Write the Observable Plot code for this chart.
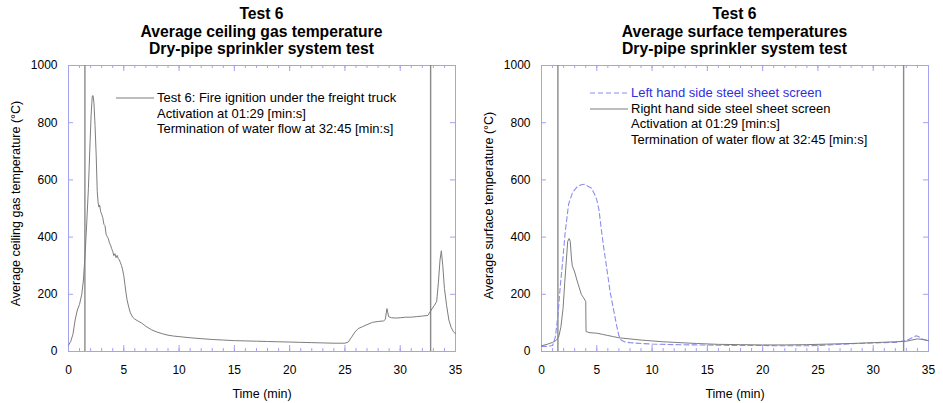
<!DOCTYPE html>
<html><head><meta charset="utf-8">
<script src="https://cdn.jsdelivr.net/npm/d3@7"></script>
<script src="https://cdn.jsdelivr.net/npm/@observablehq/plot@0.6"></script>
<style>
body{margin:0;background:#fff;font-family:"Liberation Sans",Arial,sans-serif;}
#wrap{position:relative;width:943px;height:403px;overflow:hidden;}
.panel{position:absolute;top:0;}
.title{position:absolute;top:5px;width:400px;text-align:center;font-weight:bold;font-size:15.7px;line-height:17.5px;color:#000;}
.legend{position:absolute;font-size:13px;line-height:15.5px;color:#000;white-space:nowrap;}
.legend .row{position:relative;height:15.5px;}
.legend svg{position:absolute;left:-41px;top:7px;}
</style>
</head><body>
<div id="wrap">
  <div class="panel" id="left" style="left:0"></div>
  <div class="panel" id="right" style="left:473px"></div>
</div>
<script>
// ---- data ----
const titlesLeft = ["Test 6", "Average ceiling gas temperature", "Dry-pipe sprinkler system test"];
const titlesRight = ["Test 6", "Average surface temperatures", "Dry-pipe sprinkler system test"];
const xTickLabels = [0, 5, 10, 15, 20, 25, 30, 35];
const yTickLabels = [0, 200, 400, 600, 800, 1000];
const activationMin = 1 + 29 / 60;     // 01:29
const terminationMin = 32 + 45 / 60;   // 32:45

const ceilingTime = [0,0.2,0.4,0.6,0.8,1.0,1.2,1.35,1.5,1.65,1.8,1.95,2.05,2.15,2.22,2.3,2.4,2.5,2.6,2.68,2.75,2.82,2.9,3.0,3.1,3.2,3.3,3.4,3.5,3.6,3.7,3.8,3.9,4.0,4.1,4.2,4.3,4.4,4.5,4.6,4.7,4.8,4.9,5.0,5.1,5.2,5.3,5.45,5.6,5.8,6.0,6.3,6.6,7.0,7.5,8.0,8.5,9.0,9.5,10,11,12,13,14,15,16,17,18,19,20,21,22,23,24,25,25.3,25.6,25.9,26.2,26.6,27,27.5,28,28.5,28.65,28.8,28.95,29.2,29.6,30,30.5,31,31.5,32,32.5,32.8,33.1,33.3,33.45,33.6,33.72,33.85,34.0,34.2,34.4,34.6,34.8,35];
const ceilingTemp = [22,35,60,110,145,165,200,250,340,450,570,730,830,893,895,870,790,690,560,520,505,512,490,480,468,445,440,410,402,395,380,372,360,350,335,342,328,336,325,320,310,300,285,265,235,205,180,155,135,120,113,106,100,88,76,68,62,57,54,52,48,45,42,40,38,37,36,35,34,33,32,31,30,29,29,33,50,68,80,87,94,102,105,107,112,150,122,118,117,118,120,120,122,124,126,145,162,175,240,320,352,300,220,160,110,85,70,62];

const rightTime = [0,0.5,1.0,1.3,1.55,1.75,1.95,2.1,2.25,2.37,2.5,2.6,2.7,2.78,3.0,3.2,3.4,3.6,3.8,4.0,4.03,4.3,5.0,5.5,6.0,6.5,7.0,8.0,9.0,10,11,12,14,16,18,20,22,24,26,28,30,32,33,33.5,34,34.5,35];
const rightTemp = [20,25,32,38,50,85,150,240,320,385,395,385,330,300,278,250,225,200,188,175,70,66,64,60,56,52,48,44,40,37,34,32,28,25,24,23,23,24,26,28,31,34,36,40,44,42,38];

const leftTime = [0,0.5,1.0,1.25,1.5,1.7,1.9,2.15,2.45,2.8,3.2,3.6,3.9,4.2,4.5,4.8,5.0,5.2,5.4,5.6,5.8,6.0,6.2,6.4,6.6,6.8,7.0,7.2,7.5,8.0,9.0,10,12,14,16,18,20,22,24,25,26,28,30,32,33,33.5,33.9,34.2,34.5,35];
const leftTemp = [18,18,21,50,130,230,310,420,515,555,575,583,585,578,572,550,530,495,430,370,318,265,210,170,130,90,55,40,34,31,28,26,24,23,22,21,21,20,20,21,23,27,30,32,38,48,55,50,42,38];

// ---- layout constants ----
const W = 470, H = 403, mL = 68, mR = 15, mT = 65, mB = 52;
const frameW = W - mL - mR, frameH = H - mT - mB;
const frameColor = "#a3a3f2";
const curveColor = "#7d7d7d";
const dashColor = "#8c8cf2";
const minorX = d3.range(0, 36, 1);
const majorX = xTickLabels;
const yTicksInner = yTickLabels;

function framing() {
  return [
    Plot.frame({stroke: frameColor, strokeWidth: 1}),
    Plot.tickX(minorX, {x: d => d, stroke: frameColor, insetTop: frameH - 3}),
    Plot.tickX(majorX, {x: d => d, stroke: frameColor, insetTop: frameH - 6}),
    Plot.tickX(minorX, {x: d => d, stroke: frameColor, insetBottom: frameH - 3}),
    Plot.tickX(majorX, {x: d => d, stroke: frameColor, insetBottom: frameH - 6}),
    Plot.tickY(yTicksInner, {y: d => d, stroke: frameColor, insetRight: frameW - 5}),
    Plot.tickY(yTicksInner, {y: d => d, stroke: frameColor, insetLeft: frameW - 5}),
    Plot.axisX(xTickLabels, {tickSize: 0, tickPadding: 14, fontSize: 12, label: null, fill: "#000", tickFormat: d => String(d)}),
    Plot.axisY(yTickLabels, {tickSize: 0, tickPadding: 11, fontSize: 12, label: null, fill: "#000", tickFormat: d => String(d)}),
    Plot.ruleX([activationMin, terminationMin], {stroke: "#8a8a8a", strokeWidth: 1.4}),
    Plot.text(["Time (min)"], {frameAnchor: "bottom", dy: 42, fontSize: 12.5, lineAnchor: "middle", fill: "#000"})
  ];
}

function makePlot(extra, ylabel, ydy) {
  return Plot.plot({
    width: W, height: H,
    marginLeft: mL, marginRight: mR, marginTop: mT, marginBottom: mB,
    style: {fontFamily: "'Liberation Sans', Arial, sans-serif", fontSize: "12px", color: "#000", background: "transparent"},
    x: {domain: [0, 35]},
    y: {domain: [0, 1000]},
    marks: [
      ...framing(),
      Plot.text([ylabel], {frameAnchor: "left", textAnchor: "middle", lineAnchor: "middle", dx: -53, dy: ydy, rotate: -90, fontSize: 12.5, fill: "#000"}),
      ...extra
    ]
  });
}

const ceilingData = ceilingTime.map((t, i) => ({t, v: ceilingTemp[i]}));
const rightData = rightTime.map((t, i) => ({t, v: rightTemp[i]}));
const leftData = leftTime.map((t, i) => ({t, v: leftTemp[i]}));

document.getElementById("left").appendChild(makePlot([
  Plot.line(ceilingData, {x: "t", y: "v", stroke: curveColor, strokeWidth: 1})
], "Average ceiling gas temperature (°C)", -5));

document.getElementById("right").appendChild(makePlot([
  Plot.line(leftData, {x: "t", y: "v", stroke: dashColor, strokeWidth: 1.1, strokeDasharray: "5,3"}),
  Plot.line(rightData, {x: "t", y: "v", stroke: curveColor, strokeWidth: 1})
], "Average surface temperature (°C)", -3));

// ---- titles & legends (HTML) ----
const wrap = document.getElementById("wrap");
function addTitle(lines, cx) {
  const d = document.createElement("div");
  d.className = "title";
  d.style.left = (cx - 200) + "px";
  d.innerHTML = lines.map(s => `<div>${s}</div>`).join("");
  wrap.appendChild(d);
}
addTitle(titlesLeft, 261.5);
addTitle(titlesRight, 734.5);

function addLegend(left, top, rows) {
  const d = document.createElement("div");
  d.className = "legend";
  d.style.left = left + "px";
  d.style.top = top + "px";
  rows.forEach(r => {
    const row = document.createElement("div");
    row.className = "row";
    if (r.stroke) {
      const ns = "http://www.w3.org/2000/svg";
      const s = document.createElementNS(ns, "svg");
      s.setAttribute("width", "38"); s.setAttribute("height", "2");
      const l = document.createElementNS(ns, "line");
      l.setAttribute("x1", "0"); l.setAttribute("x2", "38");
      l.setAttribute("y1", "1"); l.setAttribute("y2", "1");
      l.setAttribute("stroke", r.stroke);
      l.setAttribute("stroke-width", "1");
      if (r.dash) l.setAttribute("stroke-dasharray", r.dash);
      s.appendChild(l);
      row.appendChild(s);
    }
    const t = document.createElement("span");
    t.textContent = r.text;
    if (r.color) t.style.color = r.color;
    row.appendChild(t);
    d.appendChild(row);
  });
  wrap.appendChild(d);
}
addLegend(157, 90, [
  {text: "Test 6: Fire ignition under the freight truck", stroke: curveColor},
  {text: "Activation at 01:29 [min:s]"},
  {text: "Termination of water flow at 32:45 [min:s]"}
]);
addLegend(631, 85, [
  {text: "Left hand side steel sheet screen", color: "#2f2fe0", stroke: dashColor, dash: "5,3"},
  {text: "Right hand side steel sheet screen", stroke: curveColor},
  {text: "Activation at 01:29 [min:s]"},
  {text: "Termination of water flow at 32:45 [min:s]"}
]);
</script>
</body></html>
